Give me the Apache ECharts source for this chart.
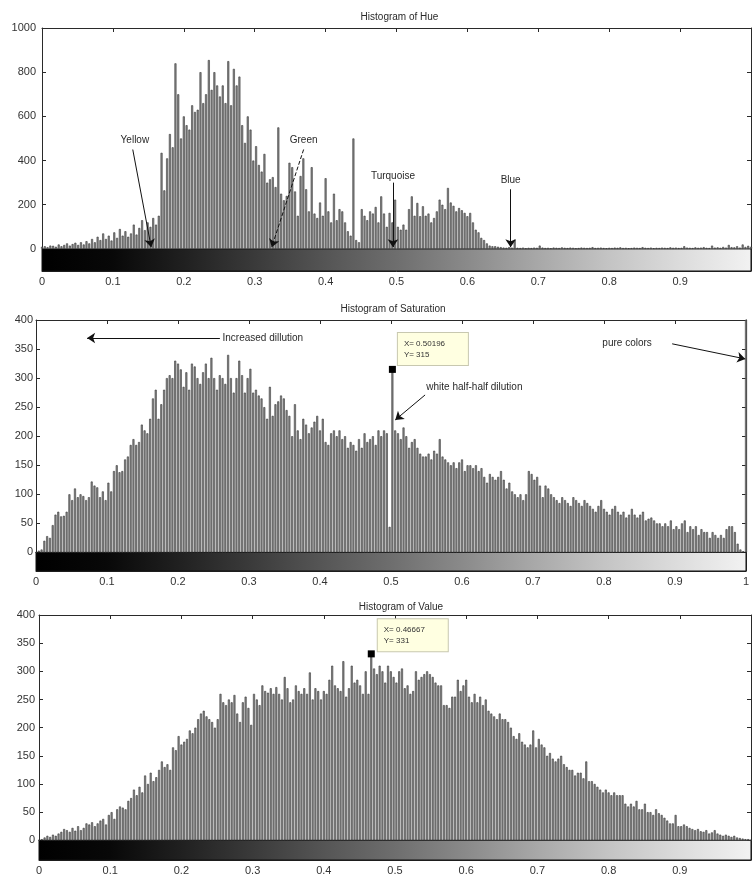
<!DOCTYPE html>
<html>
<head>
<meta charset="utf-8">
<title>Histograms of Hue, Saturation and Value</title>
<script src="https://cdn.jsdelivr.net/npm/echarts@6/dist/echarts.min.js"></script>
<style>
  html, body { margin: 0; padding: 0; background: #fff; }
  #chart { width: 754px; height: 876px; }
</style>
</head>
<body>
<div id="chart"></div>
<script>
// imhist style: 256 bins, bin k sits at k/255
const hueCounts = [
  10,12,8,15,14,10,20,12,18,25,15,22,28,18,30,20,
  35,25,45,30,55,40,70,45,60,38,75,50,90,60,80,55,
  70,110,65,95,130,85,120,100,140,110,150,435,265,410,520,460,
  840,700,500,600,560,540,650,620,630,800,660,700,855,720,800,740,
  690,740,660,850,650,815,740,780,560,480,600,540,400,465,380,350,
  430,300,315,325,280,550,250,220,240,390,370,260,150,330,410,270,
  170,370,160,140,210,150,320,170,120,250,130,180,170,120,80,60,
  500,40,30,180,150,130,170,160,190,120,238,160,100,163,120,223,
  100,87,110,87,180,238,150,208,148,193,150,160,120,140,170,223,
  200,180,276,210,195,170,185,175,163,148,163,120,87,75,50,40,
  25,15,12,12,10,8,6,5,8,6,42,5,4,6,3,5,
  4,6,5,15,6,4,5,3,6,5,4,7,5,4,6,5,
  3,4,6,5,4,5,8,4,5,6,4,3,5,4,6,5,
  7,4,5,3,4,6,5,4,8,5,4,6,3,5,4,6,
  5,4,7,5,6,4,5,12,6,5,4,7,5,6,8,5,
  4,15,6,7,5,9,6,18,8,7,12,6,20,9,14,10
];
const satCounts = [
  0,3,5,20,28,25,47,65,70,62,63,70,100,90,110,95,
  100,97,90,95,122,115,112,95,105,90,120,105,140,150,138,140,
  160,165,185,195,185,190,220,210,205,230,265,280,230,255,280,300,
  305,300,330,325,315,285,310,280,325,320,300,290,310,325,300,335,
  300,280,305,300,290,340,300,275,300,330,305,275,300,316,275,280,
  270,265,250,230,285,235,255,260,270,265,245,235,200,255,210,195,
  230,220,205,215,225,235,210,230,190,185,205,210,200,210,195,200,
  180,190,185,175,195,180,205,190,195,200,185,210,200,210,205,44,
  315,210,205,195,215,200,180,190,195,180,170,165,165,170,160,175,
  170,195,165,160,155,150,155,145,155,160,140,150,150,145,150,140,
  145,130,120,135,130,125,130,140,125,110,120,105,100,95,100,90,
  100,140,135,125,130,115,95,115,110,100,95,90,85,95,90,85,
  80,95,90,85,80,90,85,80,75,70,80,90,75,70,65,75,
  80,70,65,70,60,65,75,65,60,65,70,55,58,60,55,50,
  50,45,50,45,55,40,45,40,50,55,35,45,40,45,30,40,
  35,35,25,35,30,25,30,25,40,45,45,35,15,5,2,1500
];
const valCounts = [
  0,2,5,8,6,10,8,12,15,20,18,15,22,17,25,18,
  22,30,28,32,25,30,35,38,28,45,50,38,55,60,58,55,
  70,75,90,80,95,85,115,100,120,105,112,125,140,130,135,125,
  165,160,185,170,175,180,195,190,200,215,225,230,220,215,210,200,
  215,260,245,240,250,245,258,225,210,245,255,235,205,260,250,240,
  275,265,262,270,260,272,260,250,290,270,245,250,275,265,260,270,
  260,298,250,270,265,250,265,260,285,310,275,270,265,318,255,270,
  310,280,285,275,260,300,260,331,305,295,310,300,280,310,300,290,
  280,300,305,270,275,260,265,300,285,290,295,300,295,290,280,275,
  275,240,240,235,255,255,285,265,275,285,255,245,260,245,255,240,
  250,230,225,220,215,225,215,215,210,200,185,180,190,175,170,165,
  170,195,165,180,170,165,150,155,145,140,145,150,135,130,125,125,
  115,120,120,110,140,105,105,100,95,90,85,90,85,80,85,80,
  80,80,65,60,65,60,70,55,55,65,50,50,45,55,48,45,
  40,35,30,30,45,25,25,28,25,22,20,18,20,16,15,18,
  12,14,18,12,10,8,10,8,6,8,5,4,3,2,2,0
];
const hueYTicks = [0, 200, 400, 600, 800, 1000];
const svYTicks = [0, 50, 100, 150, 200, 250, 300, 350, 400];

const titles = ['Histogram of Hue', 'Histogram of Saturation', 'Histogram of Value'];

// annotations, in data coordinates of each panel
const hueLabels = [['Yellow', 0.131, 490], ['Green', 0.369, 490], ['Turquoise', 0.495, 330], ['Blue', 0.661, 310]];
const hueArrows = [[0.128, 450, 0.154, 8, 'solid'], [0.369, 450, 0.324, 8, 'dashed'],
                   [0.495, 300, 0.495, 8, 'solid'], [0.661, 270, 0.661, 8, 'solid']];
const satLabels = [['Increased dillution', 0.262, 369], ['white half-half dilution', 0.549, 284], ['pure colors', 0.797, 360]];
const satArrows = [[0.259, 369, 0.072, 369, 'solid'], [0.548, 271, 0.506, 228, 'solid'], [0.896, 359, 0.999, 333, 'solid']];
const satTip = [0.50196, 315];
const valTip = [0.46667, 331];

const FONT = '"Liberation Sans", Arial, sans-serif';
const INK = '#2a2a2a';

let myChart = echarts.init(document.getElementById('chart'));

function bins(counts) {
  return counts.map((c, i) => [i / 255, c]);
}

// gray strip under the histogram, black -> white
function grayBar() {
  return new echarts.graphic.LinearGradient(0, 0, 1, 0, [
    { offset: 0, color: '#000' },
    { offset: 0.1, color: '#080808' },
    { offset: 0.2, color: '#202020' },
    { offset: 0.3, color: '#3a3a3a' },
    { offset: 0.4, color: '#555' },
    { offset: 0.5, color: '#6e6e6e' },
    { offset: 0.6, color: '#8a8a8a' },
    { offset: 0.7, color: '#a8a8a8' },
    { offset: 0.8, color: '#c4c4c4' },
    { offset: 0.9, color: '#dcdcdc' },
    { offset: 1, color: '#f2f2f2' }
  ]);
}

const grids = [
  { left: 42, top: 28, width: 711, height: 243 },
  { left: 36, top: 320, width: 710, height: 251 },
  { left: 39, top: 615, width: 720, height: 248 }
];
const yRanges = [[-100, 1000], [-32, 400], [-35, 400]];
const yTickSets = [hueYTicks, svYTicks, svYTicks];
const yMargins = [6, 3, 4];
// the "1" label falls off the page on the hue and value panels
const showOne = [false, true, false];

let xAxes = [];
let yAxes = [];
grids.forEach(function (g, i) {
  const line = { onZero: false, lineStyle: { color: INK, width: 1 } };
  const tick = { inside: true, length: 4, lineStyle: { color: INK } };
  xAxes.push({
    gridIndex: i, type: 'value', min: 0, max: 1, interval: 0.1, position: 'bottom',
    axisLine: line, axisTick: tick, splitLine: { show: false },
    axisLabel: {
      margin: 5, color: '#333', fontSize: 11, fontFamily: FONT,
      formatter: function (v) {
        if (v >= 1 && !showOne[i]) return '';
        return String(Math.round(v * 10) / 10);
      }
    }
  });
  xAxes.push({
    gridIndex: i, type: 'value', min: 0, max: 1, interval: 0.1, position: 'top',
    axisLine: line, axisTick: tick, splitLine: { show: false }, axisLabel: { show: false }
  });
  yAxes.push({
    gridIndex: i, type: 'value', min: yRanges[i][0], max: yRanges[i][1], position: 'left',
    axisLine: { show: true, onZero: false, lineStyle: { color: INK } },
    axisTick: { inside: true, length: 4, lineStyle: { color: INK }, customValues: yTickSets[i] },
    splitLine: { show: false },
    axisLabel: {
      customValues: yTickSets[i], margin: yMargins[i], color: '#333', fontSize: 11, fontFamily: FONT,
      formatter: function (v) { return String(v); }
    }
  });
  yAxes.push({
    gridIndex: i, type: 'value', min: yRanges[i][0], max: yRanges[i][1], position: 'right',
    axisLine: { show: true, onZero: false, lineStyle: { color: INK } },
    axisTick: { inside: true, length: 4, lineStyle: { color: INK }, customValues: yTickSets[i] },
    splitLine: { show: false }, axisLabel: { show: false }
  });
});

function textPoints(labels, align) {
  return labels.map(function (l) {
    return {
      coord: [l[1], l[2]], symbol: 'circle', symbolSize: 1,
      itemStyle: { color: 'rgba(0,0,0,0)' },
      label: {
        show: true, formatter: l[0], position: align === 'left' ? 'right' : 'inside', distance: 0,
        color: INK, fontSize: 10, fontFamily: FONT
      }
    };
  });
}

function arrowLines(arrows) {
  return arrows.map(function (a) {
    return [
      { coord: [a[0], a[1]], lineStyle: { type: a[4], color: '#111', width: 1 } },
      { coord: [a[2], a[3]] }
    ];
  });
}

function dataTip(pt, offset) {
  return {
    coord: pt, symbol: 'rect', symbolSize: 7, itemStyle: { color: '#000' },
    label: {
      show: true, position: offset,
      formatter: 'X= ' + pt[0].toFixed(5) + '\nY= ' + pt[1],
      backgroundColor: '#ffffe1', borderColor: '#c8c8b0', borderWidth: 1,
      padding: [5, 6], width: 58, lineHeight: 11, fontSize: 8, color: '#333', fontFamily: FONT
    }
  };
}

function histSeries(i, counts, labels, arrows, align, tips) {
  return {
    type: 'bar',
    xAxisIndex: i * 2, yAxisIndex: i * 2,
    data: bins(counts),
    barWidth: 2,
    clip: true,
    itemStyle: { color: '#8a8a8a', borderColor: '#383838', borderWidth: 0.6 },
    markArea: {
      silent: true,
      itemStyle: { color: grayBar(), borderColor: '#111', borderWidth: 1 },
      data: [[{ coord: [0, yRanges[i][0]] }, { coord: [1, 0] }]]
    },
    markLine: {
      silent: true, symbol: ['none', 'arrow'], symbolSize: 8,
      label: { show: false },
      data: arrowLines(arrows)
    },
    markPoint: {
      silent: true,
      data: textPoints(labels, align).concat(tips)
    }
  };
}

const optionData = {
  animation: false,
  backgroundColor: '#fff',
  title: titles.map(function (t, i) {
    return {
      text: t, left: grids[i].left + grids[i].width / 2 - 3, top: [7, 299, 597][i], textAlign: 'center',
      textStyle: { fontSize: 10, fontWeight: 'normal', color: INK, fontFamily: FONT }
    };
  }),
  grid: grids,
  xAxis: xAxes,
  yAxis: yAxes,
  series: [
    histSeries(0, hueCounts, hueLabels, hueArrows, 'center', []),
    histSeries(1, satCounts, satLabels, satArrows, 'left', [dataTip(satTip, [9, -33])]),
    histSeries(2, valCounts, [], [], 'left', [dataTip(valTip, [10, -31])])
  ]
};

myChart.setOption(optionData);
window.addEventListener('resize', function () {
  myChart.resize();
});
</script>
</body>
</html>
